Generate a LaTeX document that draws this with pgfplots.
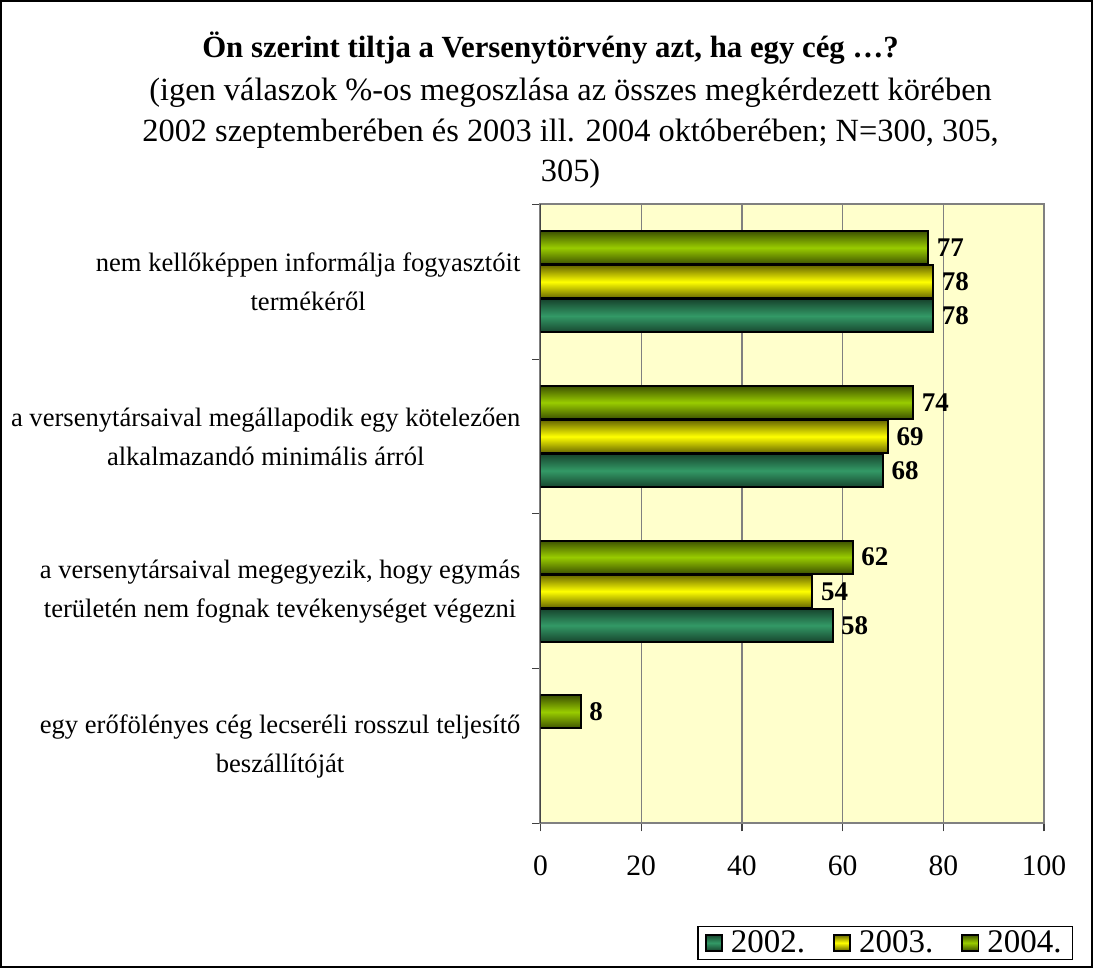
\documentclass[border=0pt]{standalone}
\usepackage{fontspec}
\setmainfont{Liberation Serif}
\usepackage{pgfplots}
\pgfplotsset{compat=1.18}
\definecolor{c02}{HTML}{339966}
\definecolor{c03}{HTML}{FFFF00}
\definecolor{c04}{HTML}{99CC00}
\definecolor{bg}{HTML}{FFFFCC}
\definecolor{gridc}{HTML}{808080}
\pgfplotsset{
  s02/.style={bar shift=-17bp, draw=black, line width=1bp, top color=c02!45!black, bottom color=c02!45!black, middle color=c02},
  s03/.style={bar shift=0bp, draw=black, line width=1bp, top color=c03!40!black, bottom color=c03!40!black, middle color=c03},
  s04/.style={bar shift=17bp, draw=black, line width=1bp, top color=c04!40!black, bottom color=c04!40!black, middle color=c04},
}
\begin{document}
\begin{tikzpicture}
\draw[black, line width=0.8bp] (-269bp,-71.5bp) rectangle (275bp,410bp);
\node[font=\fontsize{15.4}{18}\selectfont\bfseries] at (5bp,386.5bp) {Ön szerint tiltja a Versenytörvény azt, ha egy cég …?};
\node[font=\fontsize{16.2}{20.3}\selectfont, align=center] at (15bp,344bp) {(igen válaszok \%-os megoszlása az összes megkérdezett körében\\2002 szeptemberében és 2003 ill. 2004 októberében; N=300, 305,\\305)};
\begin{axis}[
  at={(0,0)}, anchor=south west,
  scale only axis, width=251bp, height=308.5bp,
  xbar, xmin=0, xmax=100, ymin=-0.5, ymax=3.5,
  bar width=16.5bp,
  /pgf/number format/assume math mode=true,
  axis background/.style={fill=bg},
  axis line style={draw=gridc, line width=1bp},
  xmajorgrids, grid style={draw=gridc, line width=0.6bp},
  xtick={0,20,...,100},
  xtick pos=bottom, ytick pos=left,
  tick align=outside, major tick length=4bp,
  tick style={draw=black!75, line width=0.6bp},
  ytick={-0.5,0.5,1.5,2.5,3.5}, yticklabels={},
  extra y ticks={0,1,2,3},
  extra y tick labels={{egy erőfölényes cég lecseréli rosszul teljesítő\\beszállítóját},{a versenytársaival megegyezik, hogy egymás\\területén nem fognak tevékenységet végezni},{a versenytársaival megállapodik egy kötelezően\\alkalmazandó minimális árról},{nem kellőképpen informálja fogyasztóit\\termékéről}},
  extra y tick style={major tick length=0pt, tick style={draw=none}, yticklabel style={align=center, font=\fontsize{13.3}{19.5}\selectfont, xshift=-6.5bp}},
  xticklabel style={font=\fontsize{14.8}{17}\selectfont, yshift=-8.5bp},
  nodes near coords={\bfseries\pgfmathprintnumber\pgfplotspointmeta},
  every node near coord/.append style={font=\fontsize{13.5}{15}\selectfont, text=black, anchor=west, xshift=0.5bp},
  legend columns=3,
  legend style={at={(1.058,-0.193)}, anchor=east, draw=black, line width=0.6bp, font=\fontsize{16.5}{18}\selectfont, inner xsep=3.5bp, inner ysep=0bp, /tikz/every even column/.append style={column sep=12bp}},
  legend image code/.code={\draw[#1, draw=black, line width=0.9bp] (0bp,-4bp) rectangle (8bp,4bp); \path (10bp,0bp);},
]
\addplot[s02] coordinates {(78,3)};
\addplot[s03] coordinates {(78,3)};
\addplot[s04] coordinates {(77,3)};
\legend{2002.,2003.,2004.}
\addplot[s02, forget plot] coordinates {(68,2)};
\addplot[s02, forget plot] coordinates {(58,1)};
\addplot[s03, forget plot] coordinates {(69,2)};
\addplot[s03, forget plot] coordinates {(54,1)};
\addplot[s04, forget plot] coordinates {(74,2)};
\addplot[s04, forget plot] coordinates {(62,1)};
\addplot[s04, forget plot] coordinates {(8,0)};
\draw[black!85, line width=1bp] (rel axis cs:0,0) -- (rel axis cs:0,1);
\end{axis}
\end{tikzpicture}
\end{document}
